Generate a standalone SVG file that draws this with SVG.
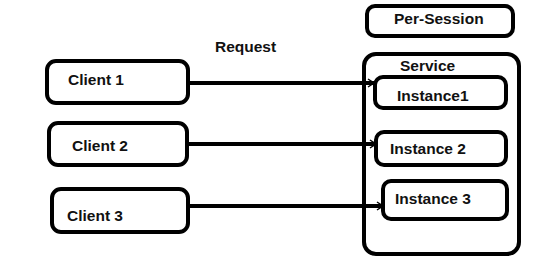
<svg xmlns="http://www.w3.org/2000/svg" width="543" height="273" viewBox="0 0 543 273">
<defs>
<style>
.box{fill:none;stroke:#000;stroke-width:4}
.lbl{font-family:"Liberation Sans",Arial,sans-serif;font-weight:bold;font-size:15.5px;fill:#111}
.conn{stroke:#000;stroke-width:4;fill:none}
</style>
<marker id="arr" markerWidth="10" markerHeight="10" refX="8" refY="5" orient="auto" markerUnits="userSpaceOnUse">
<path d="M2,1 L8,5 L2,9" fill="none" stroke="#000" stroke-width="1.5"/>
</marker>
</defs>
<rect width="543" height="273" fill="#fff"/>
<g id="per-session">
<rect class="box" x="367" y="6" width="146" height="30" rx="8"/>
<text class="lbl" x="394" y="24">Per-Session</text>
</g>
<g id="request-label">
<text class="lbl" x="215" y="52">Request</text>
</g>
<g id="service">
<rect class="box" x="364" y="54" width="155" height="200" rx="12"/>
<text class="lbl" x="400" y="71">Service</text>
</g>
<g id="instance1">
<rect class="box" x="375" y="77" width="131" height="31" rx="8"/>
<text class="lbl" x="397" y="101">Instance1</text>
</g>
<g id="instance2">
<rect class="box" x="376" y="132" width="130" height="33" rx="8"/>
<text class="lbl" x="390" y="154">Instance 2</text>
</g>
<g id="instance3">
<rect class="box" x="383" y="181" width="124" height="38" rx="8"/>
<text class="lbl" x="395" y="204">Instance 3</text>
</g>
<g id="client1">
<rect class="box" x="47" y="61" width="141" height="42" rx="9"/>
<text class="lbl" x="68" y="85">Client 1</text>
</g>
<g id="client2">
<rect class="box" x="49" y="123" width="138" height="42" rx="9"/>
<text class="lbl" x="72" y="151">Client 2</text>
</g>
<g id="client3">
<rect class="box" x="52" y="189" width="136" height="43" rx="9"/>
<text class="lbl" x="67" y="221">Client 3</text>
</g>
<g id="connectors">
<line class="conn" x1="188" y1="83" x2="374" y2="83" marker-end="url(#arr)"/>
<line class="conn" x1="187" y1="144" x2="376" y2="144" marker-end="url(#arr)"/>
<line class="conn" x1="188" y1="206" x2="383" y2="206" marker-end="url(#arr)"/>
</g>
</svg>
